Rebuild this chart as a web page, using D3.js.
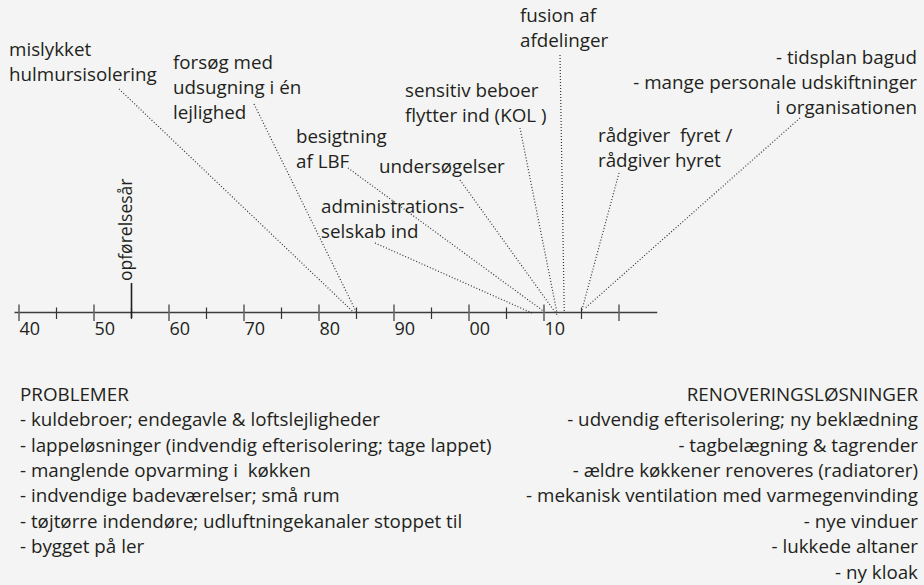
<!DOCTYPE html>
<html>
<head>
<meta charset="utf-8">
<script src="https://cdn.jsdelivr.net/npm/d3@7"></script>
<style>
  html, body { margin: 0; padding: 0; background: #f3f4f3; }
  svg text { font-family: "Open Sans", sans-serif; fill: #231f20; white-space: pre; }
</style>
</head>
<body>
<div id="chart"></div>
<script>
const tickYears = [1940, 1945, 1950, 1955, 1960, 1965, 1970, 1975, 1980, 1985, 1990, 1995, 2000, 2005, 2010, 2015, 2020];
const tickLabels = ["40", "50", "60", "70", "80", "90", "00", "10"];

const buildYear = 1955;
const buildLabel = "opførelsesår";

const eventYears = [1984.5, 1985, 2010, 2008.4, 2011.9, 2011.7, 2012.7, 2015, 2015.5];
const eventLabels = [
    ["mislykket", "hulmursisolering"],
    ["forsøg med", "udsugning i én", "lejlighed"],
    ["besigtning", "af LBF"],
    ["administrations-", "selskab ind"],
    ["undersøgelser"],
    ["sensitiv beboer", "flytter ind (KOL )"],
    ["fusion af", "afdelinger"],
    ["rådgiver  fyret /", "rådgiver hyret"],
    ["- tidsplan bagud", "- mange personale udskiftninger", "i organisationen"]
];

const problemsTitle = "PROBLEMER";
const problems = [
    "- kuldebroer; endegavle & loftslejligheder",
    "- lappeløsninger (indvendig efterisolering; tage lappet)",
    "- manglende opvarming i  køkken",
    "- indvendige badeværelser; små rum",
    "- tøjtørre indendøre; udluftningekanaler stoppet til",
    "- bygget på ler"
];
const solutionsTitle = "RENOVERINGSLØSNINGER";
const solutions = [
    "- udvendig efterisolering; ny beklædning",
    "- tagbelægning & tagrender",
    "- ældre køkkener renoveres (radiatorer)",
    "- mekanisk ventilation med varmegenvinding",
    "- nye vinduer",
    "- lukkede altaner",
    "- ny kloak"
];

// where each annotation sits and where its leader starts
const annotLayout = [
    { x: 9, y: 56, anchor: "start", sx: 119, sy: 89, ey: -1 },
    { x: 173, y: 69, anchor: "start", sx: 254, sy: 104, ey: 0 },
    { x: 296, y: 143, anchor: "start", sx: 348, sy: 168, ey: -1 },
    { x: 321, y: 213, anchor: "start", sx: 375, sy: 243, ey: 0.5 },
    { x: 379, y: 173, anchor: "start", sx: 460, sy: 180, ey: 4 },
    { x: 405, y: 97, anchor: "start", sx: 520, sy: 128, ey: -1 },
    { x: 520, y: 22, anchor: "start", sx: 560, sy: 55, ey: -1 },
    { x: 598, y: 142, anchor: "start", sx: 619, sy: 173, ey: -1 },
    { x: 917, y: 64, anchor: "end", sx: 800, sy: 118, ey: -4.5 }
];

const width = 924;
const height = 585;
const axisY = 312.5;
const lineH = 25;
const fontSize = 18.8;

const svg = d3.select("#chart")
    .append("svg")
    .attr("width", width)
    .attr("height", height);

const x = d3.scaleLinear().domain([1940, 2020]).range([19, 619]);

// axis line
svg.append("line")
    .attr("x1", x(1939.4)).attr("x2", x(2025.1))
    .attr("y1", axisY).attr("y2", axisY)
    .attr("stroke", "#3c3c3c")
    .attr("stroke-width", 1.6);

svg.selectAll(".tick")
    .data(tickYears)
    .enter()
    .append("line")
    .attr("class", "tick")
    .attr("x1", d => x(d)).attr("x2", d => x(d))
    .attr("y1", d => d % 10 === 0 ? axisY - 8 : axisY - 5)
    .attr("y2", d => d % 10 === 0 ? axisY + 8.5 : axisY + 6.5)
    .attr("stroke", d => d % 10 === 0 ? "#666" : "#333")
    .attr("stroke-width", d => d % 10 === 0 ? 1.6 : 1.2);

svg.selectAll(".tick-label")
    .data(tickLabels)
    .enter()
    .append("text")
    .attr("class", "tick-label")
    .attr("x", (d, i) => x(1940 + i * 10) + 0.5)
    .attr("y", axisY + 22.5)
    .style("font-size", "18px")
    .text(d => d);

// building year marker
svg.append("line")
    .attr("x1", x(buildYear)).attr("x2", x(buildYear))
    .attr("y1", 283).attr("y2", axisY + 5.5)
    .attr("stroke", "#231f20")
    .attr("stroke-width", 1.6);

svg.append("text")
    .attr("transform", `translate(${x(buildYear)},281) rotate(-90)`)
    .style("font-size", "17.5px")
    .text(buildLabel);

// leader lines
svg.selectAll(".leader")
    .data(eventYears)
    .enter()
    .append("line")
    .attr("class", "leader")
    .attr("x1", (d, i) => annotLayout[i].sx)
    .attr("y1", (d, i) => annotLayout[i].sy)
    .attr("x2", d => x(d))
    .attr("y2", (d, i) => axisY + annotLayout[i].ey)
    .attr("stroke", "#333")
    .attr("stroke-width", 1.2)
    .attr("stroke-dasharray", "1 2");

// annotation labels
const notes = svg.selectAll(".note")
    .data(eventLabels)
    .enter()
    .append("text")
    .attr("class", "note")
    .attr("text-anchor", (d, i) => annotLayout[i].anchor)
    .style("font-size", fontSize + "px");

notes.each(function (lines, i) {
    const lay = annotLayout[i];
    d3.select(this).selectAll("tspan")
        .data(lines)
        .enter()
        .append("tspan")
        .attr("x", lay.x)
        .attr("y", (d, j) => lay.y + j * lineH)
        .text(d => d);
});

// lists at the bottom
const listTop = 400.7;
const listStep = 25.4;

svg.selectAll(".prob")
    .data([problemsTitle].concat(problems))
    .enter()
    .append("text")
    .attr("class", "prob")
    .attr("x", 20)
    .attr("y", (d, i) => listTop + i * listStep)
    .style("font-size", fontSize + "px")
    .text(d => d);

svg.selectAll(".sol")
    .data([solutionsTitle].concat(solutions))
    .enter()
    .append("text")
    .attr("class", "sol")
    .attr("x", 918)
    .attr("y", (d, i) => listTop + i * listStep)
    .attr("text-anchor", "end")
    .style("font-size", fontSize + "px")
    .text(d => d);
</script>
</body>
</html>
